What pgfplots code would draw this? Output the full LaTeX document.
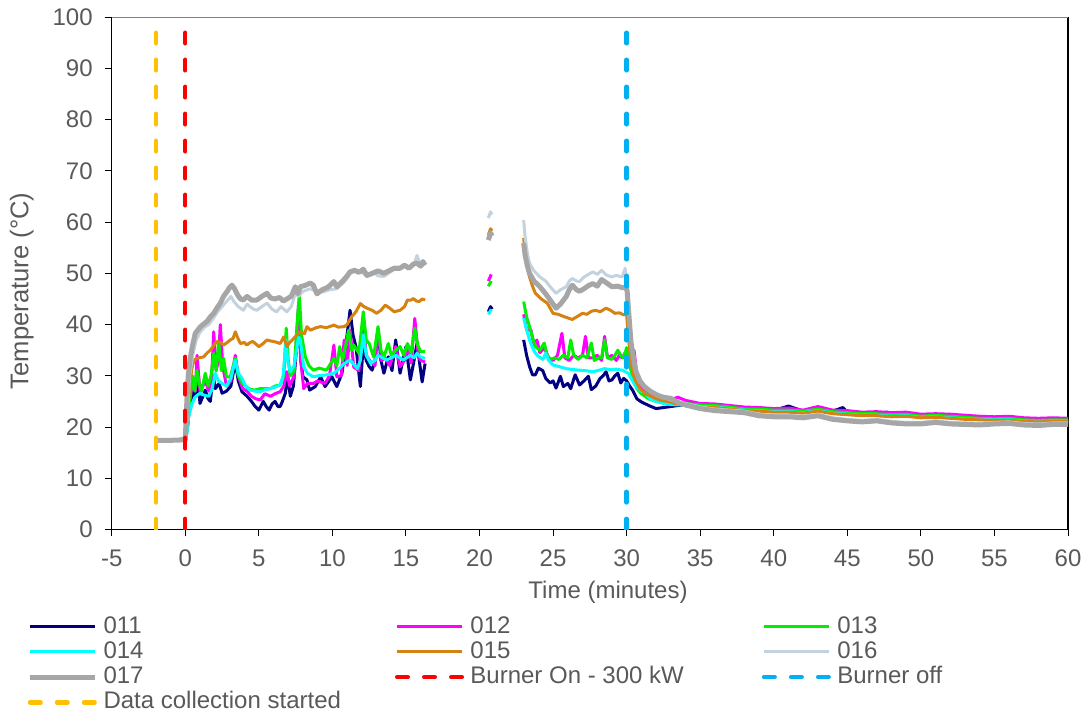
\documentclass[border=0pt]{standalone}
\usepackage{fontspec}
\setmainfont{Liberation Sans}
\usepackage{pgfplots}
\pgfplotsset{compat=1.18}

\definecolor{c011}{RGB}{0,0,128}
\definecolor{c012}{RGB}{255,0,255}
\definecolor{c013}{RGB}{0,240,0}
\definecolor{c014}{RGB}{0,255,255}
\definecolor{c015}{RGB}{214,130,18}
\definecolor{c016}{RGB}{196,210,222}
\definecolor{c017}{RGB}{166,166,166}
\definecolor{cstart}{RGB}{255,192,0}
\definecolor{con}{RGB}{255,0,0}
\definecolor{coff}{RGB}{0,176,240}
\definecolor{txt}{RGB}{89,89,89}

\newcommand{\lab}[1]{\makebox[148.7pt][l]{\hspace{3pt}#1}}

\begin{document}
\begin{tikzpicture}
\begin{axis}[
  scale only axis,
  width=478pt, height=256pt,
  xmin=-5, xmax=60, ymin=0, ymax=100,
  xtick={-5,0,...,60}, ytick={0,10,...,100},
  tick align=outside, tick pos=left,
  major tick length=3.5pt,
  tick style={black, line width=0.5pt},
  axis line style={black, line width=0.6pt},
  /pgf/number format/assume math mode=true,
  ticklabel style={font=\fontsize{12}{14}\selectfont, text=txt},
  yticklabel style={xshift=-2.5pt},
  xticklabel style={yshift=-3pt},
  xlabel={Time (minutes)}, ylabel={Temperature (°C)},
  label style={font=\fontsize{12}{14}\selectfont, text=txt},
  xlabel style={at={(axis description cs:0.519,-0.1225)}, anchor=center},
  ylabel style={at={(axis description cs:-0.094,0.466)}, anchor=center,
    font=\fontsize{12.8}{14}\selectfont},
  unbounded coords=jump,
  every axis plot/.append style={line join=round},
  legend columns=3,
  legend cell align=left,
  legend image code/.code={\draw[#1] (0pt,0pt) -- (32.5pt,0pt);},
  legend style={draw=none, fill=none, at={(0,0)}, anchor=north west,
    xshift=-42.3pt, yshift=-43pt, inner sep=0pt,
    font=\fontsize{12}{14}\selectfont, text=txt,
    nodes={inner xsep=0pt, inner ysep=0pt, text height=8.6pt, text depth=2pt}, row sep=2.05pt},
]
% 011
\addplot[c011, line width=1.5pt] coordinates {
(-2,17.5) (-1,17.5) (0,17.6) (0.15,20) (0.3,24) (0.5,27) (0.68,25.9) (0.85,29) (1.0,24.6) (1.2,26) (1.36,27.2) (1.55,25.5) (1.7,25) (1.9,30) (2.04,27.5) (2.3,28.5) (2.5,26.6) (2.8,27) (3.1,28) (3.4,32.8) (3.6,29) (3.85,26.9) (4.2,26) (4.5,25) (4.75,24) (5.0,23.3) (5.3,25) (5.5,24) (5.7,23.3) (5.9,24.5) (6.1,25) (6.3,24) (6.45,24) (6.6,25) (6.8,26.6) (6.95,30) (7.14,26) (7.35,28) (7.55,35) (7.7,42.8) (7.85,33) (8.0,29.8) (8.27,29.2) (8.45,27.2) (8.84,27.9) (9.2,29.8) (9.5,27.9) (9.97,29.8) (10.3,27.9) (10.65,30.5) (10.9,35.7) (11.2,42.8) (11.4,38) (11.6,35.7) (11.9,27.9) (12.1,36) (12.3,33) (12.5,31.8) (12.7,31.1) (12.9,33) (13.1,38.9) (13.3,33) (13.5,30.5) (13.8,33.7) (14.05,31) (14.3,37) (14.6,30.5) (15.0,35.7) (15.3,29.2) (15.55,33) (15.75,36.3) (16.1,28.8) (16.3,32.4)
(18,nan) (20.6,42.5) (20.75,43.5) (20.85,43)
(22,nan) (23.0,37) (23.2,34) (23.4,31.8) (23.6,30.2) (23.8,30.2) (24.0,31.5) (24.3,31) (24.5,29.5) (24.8,28.6) (25.0,29) (25.2,27.6) (25.5,29.9) (25.7,27.9) (26.0,28.5) (26.2,27.5) (26.5,30.2) (26.8,28.2) (27.1,29) (27.4,29.9) (27.6,27.3) (27.9,28) (28.2,29.5) (28.4,30) (28.6,30.8) (28.8,29) (29.0,29.2) (29.2,30) (29.4,30.5) (29.6,28.6) (29.8,29.5) (30.0,29) (30.2,28) (30.4,27.2) (30.7,25.5) (31.0,24.9) (31.5,24.2) (32.0,23.6) (32.5,23.8) (33.0,24.0) (33.5,24.2) (34,24.4) (35,24.3) (36,24.1) (37,23.9) (38,23.5) (39,23.7) (40,23.2) (41,24.1) (42,23.1) (43,23.5) (44,23.1) (44.7,23.8) (45,22.9) (46,22.7) (47,22.6) (47.7,22.9) (48,22.5) (49,22.6) (50,22.3) (51,22.2) (52,22.3) (53,21.9) (54,21.9) (55,21.7) (56,21.7) (57,21.5) (58,21.4) (59,21.4) (60,21.3)
};
\addlegendentry{\lab{011}}
% 012
\addplot[c012, line width=1.5pt] coordinates {
(-2,17.5) (-1,17.5) (0,17.6) (0.15,20) (0.3,25) (0.5,29) (0.68,27) (0.8,34) (1.0,27) (1.2,28) (1.36,29) (1.6,27) (1.8,30) (1.93,38.6) (2.1,31) (2.25,33) (2.38,40) (2.55,31.8) (2.8,28) (3.1,29) (3.4,34) (3.6,30) (3.9,27.5) (4.2,27) (4.5,26) (4.8,25.5) (5.1,25.3) (5.4,26.5) (5.8,26) (6.1,26.5) (6.45,26.9) (6.7,28) (6.9,30.8) (7.1,28) (7.4,30) (7.7,44) (7.85,33) (8.05,27.5) (8.3,28.5) (8.7,28.5) (9.0,29) (9.5,28.5) (9.8,30) (10.1,36) (10.3,29.8) (10.6,30) (10.8,37) (11.0,32) (11.2,38.9) (11.45,31.7) (11.8,31) (12.1,40.9) (12.3,34) (12.6,32.7) (12.9,32) (13.1,39.3) (13.35,33) (13.6,33.5) (13.9,32) (14.3,35.7) (14.6,31.8) (14.9,33) (15.1,36) (15.35,32.5) (15.6,41.2) (15.85,33.7) (16.0,33) (16.3,32.7)
(18,nan) (20.6,48.5) (20.8,49.8)
(22,nan) (23.0,42) (23.2,39) (23.5,38.9) (23.7,36) (23.9,37) (24.1,34.5) (24.4,35.5) (24.7,33.5) (25.0,33) (25.3,34) (25.6,38.3) (25.8,33.5) (26.1,33) (26.4,34) (26.7,33.5) (27.0,34) (27.2,37.7) (27.4,33.5) (27.7,33.5) (28.0,34) (28.3,33) (28.5,37.7) (28.7,33.5) (29.0,34) (29.3,33) (29.5,34) (29.7,33.5) (29.9,34.5) (30.1,34) (30.3,32) (30.5,35) (30.7,30) (31.0,28) (31.5,26.5) (32.0,25.8) (32.5,26) (33.0,25.4) (33.5,25.8) (34,25.2) (35,24.6) (36,24.5) (37,24.2) (38,23.9) (39,23.8) (40,23.6) (41,23.7) (42,23.3) (43,24.0) (44,23.3) (45,23.2) (46,22.9) (47,23.0) (48,22.8) (49,22.9) (50,22.5) (51,22.6) (52,22.5) (53,22.3) (54,22.1) (55,22.0) (56,22.1) (57,21.8) (58,21.7) (59,21.8) (60,21.7)
};
\addlegendentry{\lab{012}}
% 013
\addplot[c013, line width=1.5pt] coordinates {
(-2,17.5) (-1,17.5) (0,17.6) (0.15,20) (0.3,25) (0.5,30) (0.65,27) (0.79,31.1) (0.95,28.5) (1.1,27) (1.36,30.5) (1.55,28) (1.75,30) (1.93,34.4) (2.1,31) (2.27,36.7) (2.45,31) (2.6,33.4) (2.8,29.8) (3.06,29.8) (3.4,33.4) (3.6,30) (3.9,28.5) (4.3,27.5) (4.7,27.2) (5.1,27.5) (5.5,27.5) (5.8,27.5) (6.1,28) (6.45,28.2) (6.7,30) (6.86,39.3) (7.0,33) (7.14,30) (7.4,31) (7.6,40) (7.75,46) (7.9,38) (8.16,33.7) (8.4,32) (8.7,31.1) (9.1,31.5) (9.6,31.1) (10.1,33.4) (10.3,32) (10.5,35.7) (10.7,33) (11.1,38.9) (11.3,35) (11.45,36) (11.8,34.4) (12.1,42.5) (12.3,37) (12.5,36.3) (12.8,33.7) (13.1,39.6) (13.3,35) (13.5,33.7) (13.8,36.3) (14.0,34) (14.3,35) (14.6,35.7) (14.85,34) (15.1,36.3) (15.35,34.5) (15.6,39.3) (15.8,36) (16.0,34.7) (16.3,34.7)
(18,nan) (20.6,47.5) (20.8,48.5)
(22,nan) (23.0,44.5) (23.2,41.5) (23.4,39.6) (23.6,37.5) (23.8,35.7) (24.1,35) (24.4,36.4) (24.6,34) (24.8,33.2) (25.1,33.5) (25.4,33.2) (25.7,34) (26.0,33.5) (26.2,37) (26.4,34) (26.7,33.2) (27.0,34) (27.3,33.5) (27.6,36.4) (27.8,33) (28.1,33.5) (28.3,33.5) (28.5,37) (28.7,33.5) (29.0,33.2) (29.2,34) (29.4,35) (29.6,34) (29.8,33.5) (30.0,35.5) (30.2,32) (30.4,30) (30.7,27.5) (31.0,26.5) (31.5,25.5) (32.0,25) (32.5,24.8) (33.0,24.7) (33.5,24.7) (34,24.6) (35,24.3) (36,24.2) (37,23.9) (38,23.5) (39,23.5) (40,23.3) (41,23.3) (42,23.1) (43,23.5) (44,23.0) (45,22.8) (46,22.6) (47,22.6) (48,22.4) (49,22.5) (50,22.1) (51,22.3) (52,22.1) (53,21.9) (54,21.7) (55,21.6) (56,21.7) (57,21.4) (58,21.3) (59,21.4) (60,21.4)
};
\addlegendentry{\lab{013}}
% 014
\addplot[c014, line width=1.5pt] coordinates {
(-2,17.5) (-1,17.5) (0,17.6) (0.1,18.5) (0.23,22) (0.45,24.5) (0.68,25.9) (1.0,26.6) (1.3,26.2) (1.6,26) (1.8,27.2) (2.04,30.5) (2.25,29) (2.5,28.5) (2.8,28) (3.1,29.5) (3.4,33.1) (3.6,30.5) (3.85,29.5) (4.1,28) (4.4,27.2) (4.75,27) (5.1,26.9) (5.45,27.3) (5.8,27.5) (6.1,27.8) (6.45,28.2) (6.65,30) (6.85,37) (6.95,33) (7.14,30.8) (7.4,32) (7.7,37.6) (7.82,37) (8.05,31.8) (8.3,30.5) (8.7,29.8) (9.0,30) (9.4,30.1) (9.8,30.3) (10.1,30.5) (10.5,31.5) (10.8,32.4) (11.2,33.1) (11.7,31.4) (11.9,33) (12.1,38) (12.3,34) (12.6,32.4) (12.9,33) (13.1,34) (13.4,33.5) (13.7,33.1) (14.0,33.5) (14.3,34) (14.6,33.5) (14.8,33.1) (15.05,33.5) (15.3,34) (15.55,33.5) (15.75,34.4) (16.0,33.7) (16.3,33.4)
(18,nan) (20.6,42) (20.8,43)
(22,nan) (23.0,41.3) (23.2,39) (23.4,37) (23.6,35.5) (23.8,34.4) (24.0,33.8) (24.3,33.2) (24.5,34.4) (24.7,33) (25.0,32.1) (25.4,31.8) (25.9,31.4) (26.4,31.2) (26.8,31.1) (27.2,31) (27.7,30.8) (28.0,31) (28.5,31.4) (28.9,31.2) (29.3,31.3) (29.7,31.1) (29.9,30.8) (30.1,30.5) (30.3,29.5) (30.6,28) (31.0,27) (31.3,26.6) (31.6,25.5) (32,25) (32.5,24.6) (33,24.4) (33.5,24.3) (34,24.3) (35,24.0) (36,23.9) (37,23.6) (38,23.3) (39,23.2) (40,23.0) (41,23.0) (42,22.8) (43,23.2) (44,22.7) (45,22.5) (46,22.3) (47,22.3) (48,22.1) (49,22.2) (50,21.9) (51,22.0) (52,21.8) (53,21.6) (54,21.5) (55,21.4) (56,21.4) (57,21.2) (58,21.1) (59,21.2) (60,21.2)
};
\addlegendentry{\lab{014}}
% 015
\addplot[c015, line width=1.5pt] coordinates {
(-2,17.5) (-1,17.5) (0,17.6) (0.15,22) (0.3,28) (0.45,31.5) (0.6,33.1) (0.9,33.5) (1.25,33.7) (1.5,34.5) (1.7,35) (1.95,36) (2.15,36.7) (2.4,36.5) (2.6,36) (2.85,36.5) (3.06,37) (3.25,37.3) (3.4,38.6) (3.55,37.5) (3.74,36.3) (4.0,36.5) (4.19,36) (4.4,36.5) (4.6,36.7) (4.8,36.2) (5.0,35.7) (5.3,36.3) (5.55,37) (5.8,36.8) (6.0,36.7) (6.25,36.5) (6.45,36.3) (6.7,37.6) (6.9,35.7) (7.1,36.5) (7.37,37.3) (7.6,38) (7.8,38.6) (8.1,38.2) (8.27,39.6) (8.5,38.9) (8.9,39.4) (9.2,39.6) (9.6,39.4) (10.1,39.9) (10.4,39.5) (10.8,39.6) (11.0,40) (11.3,41.5) (11.6,42.5) (11.9,44.1) (12.1,43.6) (12.35,43.2) (12.7,42.8) (13.0,42.2) (13.3,42.8) (13.6,43.8) (13.9,43.2) (14.2,42.5) (14.6,42.8) (14.9,43.5) (15.1,44.8) (15.35,44.8) (15.5,45.1) (15.7,44.6) (15.9,44.5) (16.1,45.0) (16.3,44.8)
(18,nan) (20.6,57.5) (20.75,58.7) (20.85,58.3)
(22,nan) (23.0,56.9) (23.1,54) (23.25,51) (23.4,49.3) (23.6,47.5) (23.8,46.1) (24.2,45) (24.6,44.2) (25.0,42.2) (25.35,42) (25.7,41.6) (26.0,41.3) (26.3,41) (26.6,41.5) (27.0,42.2) (27.3,42) (27.6,42.6) (27.9,42.8) (28.2,42.5) (28.6,43.2) (28.9,42.8) (29.2,42.2) (29.5,42.3) (29.8,41.9) (30.0,42) (30.1,38) (30.25,34) (30.4,31) (30.6,29) (30.9,27.5) (31.3,26.5) (31.8,25.8) (32.3,25.2) (32.8,25) (33.3,24.6) (34,24.2) (35,23.9) (36,23.8) (37,23.5) (38,23.2) (39,23.1) (40,22.9) (41,22.9) (42,22.7) (43,23.1) (44,22.6) (45,22.4) (46,22.2) (47,22.2) (48,22.0) (49,22.1) (50,21.8) (51,21.9) (52,21.7) (53,21.5) (54,21.4) (55,21.3) (56,21.3) (57,21.1) (58,21.0) (59,21.1) (60,21.1)
};
\addlegendentry{\lab{015}}
% 016
\addplot[c016, line width=1.5pt] coordinates {
(-2,17.5) (-1,17.5) (0,17.6) (0.15,23) (0.3,30) (0.5,34) (0.75,37) (1.0,38.5) (1.3,39.5) (1.6,40) (1.9,41.2) (2.2,42.5) (2.5,43.5) (2.83,44.6) (3.1,45.5) (3.3,44.5) (3.6,43.5) (3.95,42.8) (4.2,44) (4.4,43.5) (4.65,43) (4.87,42.8) (5.2,43.5) (5.55,44.2) (5.9,43) (6.2,42.5) (6.5,43.5) (6.9,42.5) (7.2,43.5) (7.48,46) (7.7,45.5) (8.0,46.5) (8.5,47) (8.9,46.5) (9.4,46.4) (9.8,46.8) (10.3,47) (10.7,48) (11.0,49) (11.2,50) (11.6,50.5) (12.0,50.2) (12.35,49.4) (12.8,50.3) (13.1,49.5) (13.5,49.4) (13.9,50.2) (14.2,50.8) (14.6,51) (15.0,51.5) (15.3,51) (15.55,51.8) (15.75,53.5) (16.0,51.5) (16.1,51.5) (16.3,52)
(18,nan) (20.6,60.8) (20.75,62) (20.85,61.5)
(22,nan) (23.0,60.4) (23.1,57) (23.25,54) (23.4,52) (23.7,50.5) (24.1,49.3) (24.5,48.5) (24.8,47.4) (25.2,46.1) (25.5,46.8) (25.9,47.4) (26.1,48.5) (26.3,49) (26.6,48.5) (26.8,48.4) (27.1,49.3) (27.4,49.8) (27.7,50.3) (28.0,49.8) (28.3,50.6) (28.6,49.7) (29.0,49.3) (29.3,49.6) (29.7,49.3) (29.9,51) (30.03,48) (30.15,42) (30.3,37) (30.5,33) (30.8,29.5) (31.2,28) (31.7,26.8) (32.2,26) (32.8,25.5) (33.4,24.9) (34,24.6) (35,23.9) (36,23.5) (37,23.3) (38,23.1) (39,22.5) (40,22.3) (41,22.3) (42,22.1) (43,22.5) (44,21.8) (45,21.5) (46,21.3) (47,21.5) (48,21.1) (49,20.9) (50,20.9) (51,21.2) (52,20.9) (53,20.8) (54,20.7) (55,20.9) (56,21.0) (57,20.7) (58,20.6) (59,20.8) (60,20.8)
};
\addlegendentry{\lab{016}}
% 017
\addplot[c017, line width=2.5pt] coordinates {
(-2,17.4) (-1,17.4) (0,17.5) (0.11,25.3) (0.2,30) (0.34,33.5) (0.5,36) (0.68,38.3) (1.0,39.5) (1.2,40) (1.47,40.6) (1.7,41.5) (1.93,42.2) (2.1,43) (2.38,44.2) (2.6,45.5) (2.85,46.5) (3.0,47.2) (3.17,47.7) (3.35,47) (3.55,45.8) (3.75,45) (3.95,44.8) (4.2,45.5) (4.5,44.8) (4.87,44.8) (5.2,45.5) (5.55,46.1) (5.8,45.2) (6.1,45) (6.4,45.3) (6.67,44.6) (6.9,45) (7.2,45.5) (7.48,47.4) (7.65,46) (7.82,47.4) (8.1,47.6) (8.5,48.1) (8.7,47.7) (8.95,46) (9.3,46.8) (9.7,47.3) (10.1,48.4) (10.3,47.4) (10.7,48.5) (11.0,49.5) (11.2,50.3) (11.5,50.6) (11.8,50.2) (12.1,50.8) (12.35,49.6) (12.7,50) (13.1,50.5) (13.5,50.0) (13.9,50.6) (14.2,51) (14.6,51) (14.9,51.6) (15.2,51) (15.5,51.8) (15.75,52) (16.0,51.4) (16.15,52.3) (16.3,51.6)
(18,nan) (20.6,56.5) (20.75,57.9) (20.85,57.3)
(22,nan) (23.0,55.9) (23.1,53.5) (23.25,51.5) (23.4,50) (23.7,48.5) (24.1,47.4) (24.5,46) (24.8,44.8) (25.2,43.2) (25.5,44) (25.9,45.5) (26.1,46.8) (26.3,47.7) (26.6,46.8) (26.8,46.5) (27.1,47) (27.4,47.6) (27.7,48) (28.0,47.5) (28.3,48.8) (28.6,48.2) (29.0,47.4) (29.4,47.5) (29.7,47.2) (29.9,47.2) (30.03,46.7) (30.15,42) (30.3,36.4) (30.6,31.1) (30.9,29) (31.2,27.9) (31.6,27) (32.1,26.2) (32.5,25.8) (33,25.6) (33.5,24.8) (34,24.3) (35,23.6) (36,23.2) (37,23.0) (38,22.8) (39,22.2) (40,22.0) (41,22.0) (42,21.8) (43,22.2) (44,21.5) (45,21.2) (46,21.0) (47,21.2) (48,20.8) (49,20.6) (50,20.6) (51,20.9) (52,20.6) (53,20.5) (54,20.4) (55,20.6) (56,20.7) (57,20.4) (58,20.3) (59,20.5) (60,20.5)
};
\addlegendentry{\lab{017}}
% events
\addplot[con, line width=2.2pt, line cap=round, dash pattern=on 5.3pt off 8.2pt] coordinates {(0,0) (0,100)};
\addlegendentry{\lab{Burner On - 300 kW}}
\addplot[coff, line width=2.2pt, line cap=round, dash pattern=on 5.3pt off 8.2pt] coordinates {(30,0) (30,100)};
\addlegendentry{\lab{Burner off}}
\addplot[cstart, line width=2.2pt, line cap=round, dash pattern=on 5.3pt off 8.2pt] coordinates {(-2,0) (-2,100)};
\addlegendentry{\lab{Data collection started}}
\draw[gray, line width=0.8pt] (rel axis cs:0,1) -- (rel axis cs:1,1);
\end{axis}
\pgfresetboundingbox
\path ([xshift=-55.85pt,yshift=-90.85pt]current axis.south west) rectangle ([xshift=9pt,yshift=8.65pt]current axis.north east);
\end{tikzpicture}
\end{document}
